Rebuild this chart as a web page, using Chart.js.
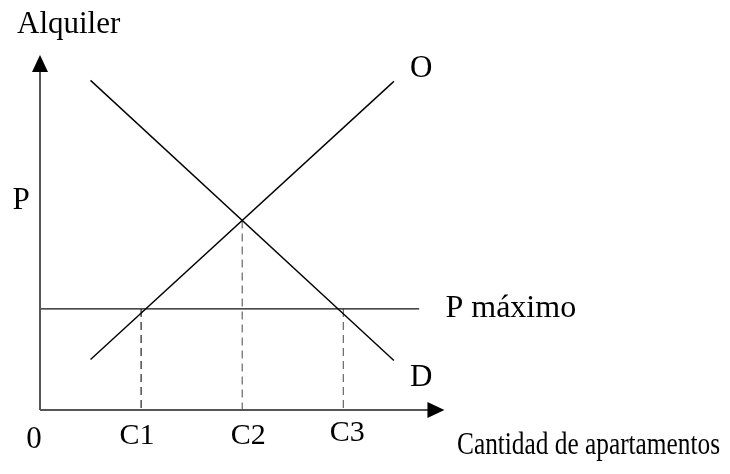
<!DOCTYPE html>
<html>
<head>
<meta charset="utf-8">
<script src="https://cdn.jsdelivr.net/npm/chart.js@4"></script>
<style>
  html, body { margin: 0; padding: 0; background: #fff; }
  canvas { display: block; }
</style>
</head>
<body>
<canvas id="chart" width="730" height="474"></canvas>
<script>
// ===== DATA =====
const supplyX = [0.5, 3.5];
const supplyY = [0.5, 3.25];
const demandX = [0.5, 3.5];
const demandY = [3.26, 0.49];
const priceCap = 1.0;          // P máximo
const priceCapEnd = 3.75;
const priceEq = 1.875;         // P
const qtyValues = [1, 2, 3];   // C1, C2, C3
const qtyTops = [priceCap, priceEq, priceCap];
const qtyLabels = ["C1", "C2", "C3"];

const SERIF = '"Liberation Serif", "DejaVu Serif", serif';

const pts = (xs, ys) => xs.map((x, i) => ({ x: x, y: ys[i] }));

const datasets = [
    { data: pts(supplyX, supplyY), borderColor: "#000", borderWidth: 1.4 },
    { data: pts(demandX, demandY), borderColor: "#000", borderWidth: 1.4 },
    { data: [{ x: 0, y: priceCap }, { x: priceCapEnd, y: priceCap }], borderColor: "#111", borderWidth: 1.4 }
];
qtyValues.forEach((q, i) => {
    datasets.push({
        data: [{ x: q, y: qtyTops[i] }, { x: q, y: 0 }],
        borderColor: i === 0 ? "#222" : "#666",
        borderWidth: 1.2,
        borderDash: [8, 5]
    });
});

// ===== AXES + TEXT =====
const axesPlugin = {
    id: "axesPlugin",
    afterDatasetsDraw(chart) {
        const ctx = chart.ctx;
        const xs = chart.scales.x, ys = chart.scales.y;
        const x0 = xs.getPixelForValue(0), y0 = ys.getPixelForValue(0);
        const yTip = ys.getPixelForValue(3.51);
        const xTip = xs.getPixelForValue(4.0);

        ctx.save();
        ctx.strokeStyle = "#555";
        ctx.fillStyle = "#000";
        ctx.lineWidth = 2;
        ctx.beginPath();
        ctx.moveTo(x0, y0);
        ctx.lineTo(x0, yTip + 16);
        ctx.moveTo(x0, y0);
        ctx.lineTo(xTip - 16, y0);
        ctx.stroke();

        // arrow heads
        ctx.beginPath();
        ctx.moveTo(x0, yTip);
        ctx.lineTo(x0 - 8, yTip + 17);
        ctx.lineTo(x0 + 8, yTip + 17);
        ctx.closePath();
        ctx.fill();
        ctx.beginPath();
        ctx.moveTo(xTip, y0);
        ctx.lineTo(xTip - 17, y0 - 8);
        ctx.lineTo(xTip - 17, y0 + 8);
        ctx.closePath();
        ctx.fill();

        ctx.textBaseline = "middle";
        ctx.textAlign = "center";
        ctx.font = "31px " + SERIF;
        ctx.fillText("0", x0 - 6, y0 + 30);
        ctx.font = "30px " + SERIF;
        const nudge = [-4, 6, 4];
        qtyValues.forEach((q, i) => {
            ctx.fillText(qtyLabels[i], xs.getPixelForValue(q) + nudge[i], y0 + 26 - (i === 2 ? 3 : 0));
        });

        ctx.font = "31px " + SERIF;
        ctx.fillText("O", xs.getPixelForValue(3.77), ys.getPixelForValue(3.37));
        ctx.fillText("D", xs.getPixelForValue(3.77), ys.getPixelForValue(0.32));
        ctx.fillText("P", x0 - 19, ys.getPixelForValue(2.07));

        ctx.textAlign = "left";
        ctx.font = "32px " + SERIF;
        ctx.fillText("P máximo", xs.getPixelForValue(4.01), ys.getPixelForValue(priceCap));

        ctx.textBaseline = "alphabetic";
        ctx.font = "31px " + SERIF;
        ctx.fillText("Alquiler", 17, 33);
        ctx.fillText("Cantidad de apartamentos", 457, 454, 263);
        ctx.restore();
    }
};

new Chart(document.getElementById("chart"), {
    type: "scatter",
    data: { datasets: datasets },
    options: {
        responsive: false,
        animation: false,
        devicePixelRatio: 1,
        showLine: true,
        elements: { point: { radius: 0, hoverRadius: 0 } },
        layout: { padding: { left: 40, right: 235, top: 46, bottom: 64 } },
        scales: {
            x: { type: "linear", min: 0, max: 4.5, display: false },
            y: { type: "linear", min: 0, max: 3.6, display: false }
        },
        plugins: {
            legend: { display: false },
            tooltip: { enabled: false }
        }
    },
    plugins: [axesPlugin]
});
</script>
</body>
</html>
